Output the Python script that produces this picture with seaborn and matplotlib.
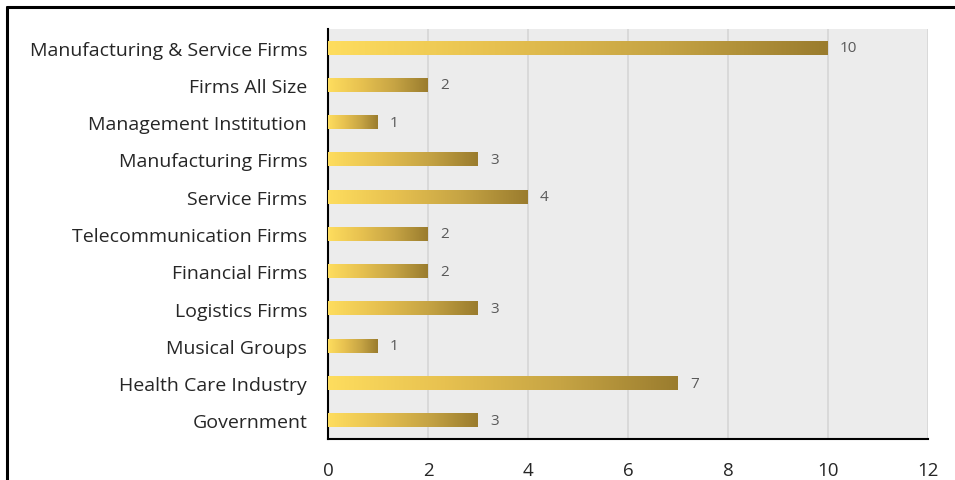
import numpy as np
import pandas as pd
import matplotlib
matplotlib.use("Agg")
import matplotlib.pyplot as plt
import seaborn as sns
from matplotlib.colors import LinearSegmentedColormap
from matplotlib.lines import Line2D

categories = ["Manufacturing & Service Firms", "Firms All Size", "Management Institution",
              "Manufacturing Firms", "Service Firms", "Telecommunication Firms",
              "Financial Firms", "Logistics Firms", "Musical Groups",
              "Health Care Industry", "Government"]
values = [10, 2, 1, 3, 4, 2, 2, 3, 1, 7, 3]
xticks = [0, 2, 4, 6, 8, 10, 12]

df = pd.DataFrame({"category": categories, "value": values})

sns.set_style("white")
plt.rcParams["font.family"] = ["Open Sans", "DejaVu Sans"]

fig = plt.figure(figsize=(9.55, 4.81), dpi=100)
ax = fig.add_axes([328/955, 1-440/481, 600/955, 410/481])
ax.set_facecolor("#ececec")

sns.barplot(data=df, x="value", y="category", orient="h", ax=ax, width=0.37,
            color="#e0b84a", saturation=1)

cmap = LinearSegmentedColormap.from_list("gold", ["#fedd5e", "#e7c150", "#c6a444", "#9a7c2e"])
grad = np.linspace(0, 1, 256).reshape(1, -1)
for p in ax.patches:
    x0, y0 = p.get_x(), p.get_y()
    w, h = p.get_width(), p.get_height()
    p.set_facecolor("none")
    p.set_edgecolor("none")
    ax.imshow(grad, cmap=cmap, aspect="auto", extent=[x0, x0 + w, y0 + h, y0],
              zorder=3, interpolation="bicubic")
    ax.text(x0 + w + 0.24, y0 + h / 2, f"{int(w)}", va="center", ha="left",
            fontsize=11, color="#595959", zorder=4)

ax.set_xlim(0, 12)
ax.set_ylim(len(categories) - 0.5, -0.5)
ax.set_xticks(xticks)
ax.set_xticklabels([str(t) for t in xticks])
ax.xaxis.grid(True, color="#d6d6d6", linewidth=1.2)
ax.yaxis.grid(False)
ax.set_axisbelow(True)
ax.set_xlabel("")
ax.set_ylabel("")
for s in ["top", "right"]:
    ax.spines[s].set_visible(False)
ax.spines["left"].set_color("black")
ax.spines["left"].set_linewidth(1.5)
ax.spines["bottom"].set_color("black")
ax.spines["bottom"].set_linewidth(1.5)
ax.tick_params(axis="x", length=0, pad=16, labelsize=13.5, labelcolor="#262626")
ax.tick_params(axis="y", length=0, pad=15, labelsize=14, labelcolor="#262626")

fig.add_artist(Line2D([7/955, 7/955], [0, 1-8/481], color="black", lw=2.2, transform=fig.transFigure))
fig.add_artist(Line2D([7/955, 1], [1-8/481, 1-8/481], color="black", lw=2.2, transform=fig.transFigure))

fig.savefig("out.png", dpi=100, facecolor="white")
